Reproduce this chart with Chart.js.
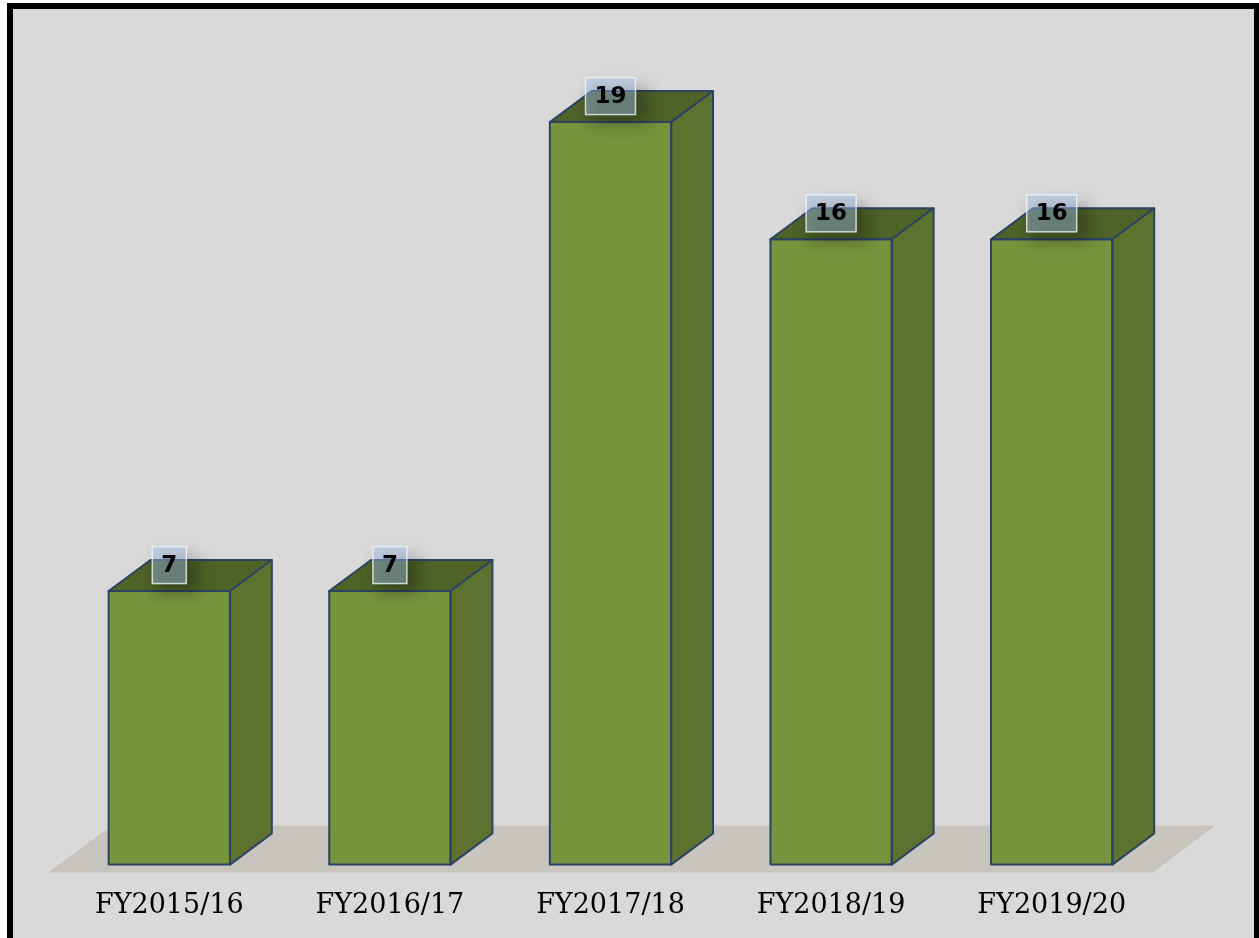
<!DOCTYPE html>
<html>
<head>
<meta charset="utf-8">
<script src="https://cdn.jsdelivr.net/npm/chart.js@4"></script>
<style>
  html, body { margin: 0; padding: 0; background: #ffffff; width: 1259px; height: 938px; overflow: hidden; }
  #frame { position: absolute; left: 7px; top: 3px; width: 1241px; height: 960px; border: 6px solid #000; background: #d9d9d9; }
  #wrap { position: absolute; left: 0; top: 0; width: 1259px; height: 948px; }
</style>
</head>
<body>
<div id="frame"></div>
<div id="wrap"><canvas id="c" width="1259" height="947"></canvas></div>
<script>
const categories = ["FY2015/16", "FY2016/17", "FY2017/18", "FY2018/19", "FY2019/20"];
const values = [7, 7, 19, 16, 16];

const FRONT = '#77933c';
const TOP = '#4f6228';
const SIDE = '#5e7230';
const EDGE = '#2b4263';
const FLOOR = '#c8c5be';

const threeD = {
  id: 'threeD',
  beforeDatasetsDraw(chart) {
    const ctx = chart.ctx;
    const ca = chart.chartArea;
    const y0 = chart.scales.y.getPixelForValue(0);
    ctx.save();
    ctx.fillStyle = FLOOR;
    ctx.beginPath();
    ctx.moveTo(ca.left - 11, y0 + 8);
    ctx.lineTo(ca.right - 9, y0 + 8);
    ctx.lineTo(ca.right + 53, y0 - 39);
    ctx.lineTo(ca.left + 53, y0 - 39);
    ctx.closePath();
    ctx.fill();
    ctx.restore();
  },
  afterDatasetsDraw(chart) {
    const ctx = chart.ctx;
    const meta = chart.getDatasetMeta(0);
    meta.data.forEach((bar, i) => {
      const p = bar.getProps(['x', 'y', 'base', 'width'], true);
      const l = p.x - p.width / 2, r = p.x + p.width / 2;
      const t = p.y, b = p.base;
      const dx = p.width * 0.345, dy = p.width * 0.256;
      ctx.save();
      ctx.lineWidth = 2;
      ctx.strokeStyle = EDGE;
      ctx.lineJoin = 'round';
      ctx.fillStyle = TOP;
      ctx.beginPath();
      ctx.moveTo(l, t); ctx.lineTo(l + dx, t - dy); ctx.lineTo(r + dx, t - dy); ctx.lineTo(r, t); ctx.closePath();
      ctx.fill(); ctx.stroke();
      ctx.fillStyle = SIDE;
      ctx.beginPath();
      ctx.moveTo(r, t); ctx.lineTo(r + dx, t - dy); ctx.lineTo(r + dx, b - dy); ctx.lineTo(r, b); ctx.closePath();
      ctx.fill(); ctx.stroke();
      ctx.strokeRect(l, t, r - l, b - t);
      ctx.restore();

      const txt = String(values[i]);
      ctx.save();
      ctx.font = 'bold 23px "DejaVu Sans"';
      const tw = ctx.measureText(txt).width;
      const bw = tw + 18, bh = 37;
      const cx = p.x, cy = t - 26;
      ctx.save();
      ctx.fillStyle = 'rgba(0,0,0,0.28)';
      ctx.filter = 'blur(8px)';
      ctx.fillRect(cx - bw / 2 + 4, cy - bh / 2 + 10, bw + 8, bh);
      ctx.restore();
      ctx.fillStyle = 'rgba(160,190,230,0.45)';
      ctx.fillRect(cx - bw / 2, cy - bh / 2, bw, bh);
      ctx.strokeStyle = 'rgba(240,245,250,0.8)';
      ctx.lineWidth = 1.5;
      ctx.strokeRect(cx - bw / 2, cy - bh / 2, bw, bh);
      ctx.fillStyle = '#000';
      ctx.textAlign = 'center';
      ctx.textBaseline = 'middle';
      ctx.fillText(txt, cx, cy + 1);
      ctx.restore();
    });
  }
};

new Chart(document.getElementById('c'), {
  type: 'bar',
  data: {
    labels: categories,
    datasets: [{
      data: values,
      backgroundColor: FRONT,
      borderWidth: 0,
      barPercentage: 0.55,
      categoryPercentage: 1.0
    }]
  },
  options: {
    responsive: false,
    animation: false,
    layout: { padding: { left: 59, right: 97, top: 83, bottom: 0 } },
    plugins: { legend: { display: false }, tooltip: { enabled: false } },
    scales: {
      y: { display: false, min: 0, max: 20 },
      x: {
        grid: { display: false, drawTicks: false },
        border: { display: false },
        ticks: { color: '#000', padding: 25, font: { family: '"DejaVu Serif"', size: 27 } }
      }
    }
  },
  plugins: [threeD]
});
</script>
</body>
</html>
